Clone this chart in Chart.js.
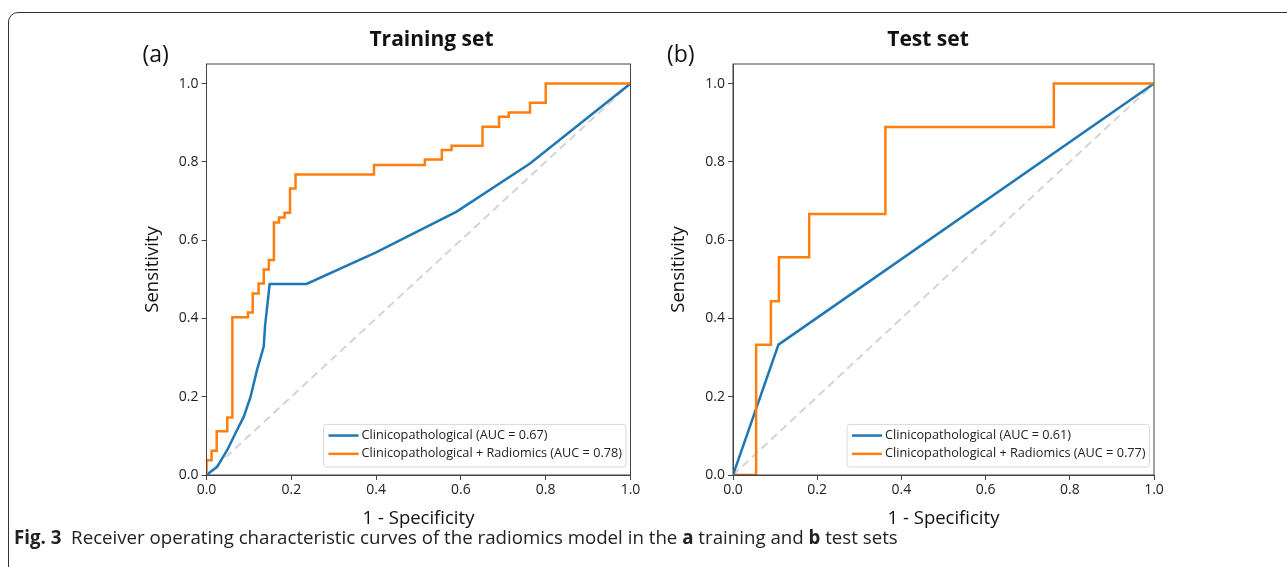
<!DOCTYPE html>
<html>
<head>
<meta charset="utf-8">
<script src="https://cdn.jsdelivr.net/npm/chart.js@4.4.1/dist/chart.umd.min.js"></script>
<style>
    body { margin: 0; background: #fff; width: 1287px; height: 567px; overflow: hidden; position: relative; font-family: "Open Sans", sans-serif; }
    .frame { position: absolute; left: 8px; top: 12px; width: 1300px; height: 600px; border: 1px solid #333; border-radius: 10px; }
    canvas { position: absolute; }
    #trainChart { left: 130px; top: 10px; }
    #testChart { left: 655px; top: 10px; }
    .caption { position: absolute; left: 14px; top: 526px; font-size: 18.7px; color: #222; white-space: nowrap; line-height: 22px; }
</style>
</head>
<body>
<div class="frame"></div>
<canvas id="trainChart" width="520" height="530"></canvas>
<canvas id="testChart" width="520" height="530"></canvas>
<div class="caption"><b>Fig. 3</b>&nbsp; Receiver operating characteristic curves of the radiomics model in the <b>a</b> training and <b>b</b> test sets</div>
<script>
// tick values shared by both panels
const tickValues = [0, 0.2, 0.4, 0.6, 0.8, 1.0];

// training set, clinicopathological model
const trainClinFpr = [0, 0.025, 0.049, 0.068, 0.088, 0.104, 0.119, 0.135, 0.138, 0.149, 0.236, 0.4, 0.59, 0.763, 1.0];
const trainClinTpr = [0, 0.021, 0.064, 0.106, 0.149, 0.2, 0.268, 0.328, 0.38, 0.488, 0.488, 0.569, 0.673, 0.796, 1.0];

// training set, clinicopathological + radiomics
const trainCombFpr = [0, 0, 0.012, 0.012, 0.024, 0.024, 0.049, 0.049, 0.061, 0.061, 0.098, 0.098, 0.109, 0.109,
    0.123, 0.123, 0.135, 0.135, 0.147, 0.147, 0.159, 0.159, 0.171, 0.171, 0.184, 0.184, 0.197, 0.197, 0.210, 0.210,
    0.395, 0.395, 0.515, 0.515, 0.555, 0.555, 0.578, 0.578, 0.651, 0.651, 0.690, 0.690, 0.713, 0.713, 0.763, 0.763,
    0.800, 0.800, 1.0];
const trainCombTpr = [0, 0.038, 0.038, 0.062, 0.062, 0.112, 0.112, 0.147, 0.147, 0.403, 0.403, 0.415, 0.415, 0.464,
    0.464, 0.489, 0.489, 0.525, 0.525, 0.549, 0.549, 0.645, 0.645, 0.658, 0.658, 0.670, 0.670, 0.732, 0.732, 0.768,
    0.768, 0.792, 0.792, 0.806, 0.806, 0.830, 0.830, 0.841, 0.841, 0.890, 0.890, 0.915, 0.915, 0.926, 0.926, 0.951,
    0.951, 1.0, 1.0];

// test set
const testClinFpr = [0, 0.108, 1.0];
const testClinTpr = [0, 0.333, 1.0];
const testCombFpr = [0, 0.055, 0.055, 0.090, 0.090, 0.109, 0.109, 0.181, 0.181, 0.362, 0.362, 0.762, 0.762, 1.0];
const testCombTpr = [0, 0, 0.333, 0.333, 0.444, 0.444, 0.556, 0.556, 0.667, 0.667, 0.889, 0.889, 1.0, 1.0];

const chanceFpr = [0, 1];
const chanceTpr = [0, 1];

const BLUE = '#1f77b4';
const ORANGE = '#ff7f0e';
const FONT = '"Open Sans", sans-serif';

function toPoints(xs, ys) {
    return xs.map((x, i) => ({ x, y: ys[i] }));
}

// panel tag, title, frame and the in-axes legend
const panelDecor = {
    id: 'panelDecor',
    afterDraw(chart, args, opts) {
        const { ctx, chartArea } = chart;
        ctx.save();
        ctx.strokeStyle = '#444';
        ctx.lineWidth = 1;
        ctx.strokeRect(chartArea.left, chartArea.top, chartArea.width, chartArea.height);

        ctx.fillStyle = '#111';
        ctx.textBaseline = 'middle';
        ctx.textAlign = 'left';
        ctx.font = `23px ${FONT}`;
        ctx.fillText(opts.tag, chartArea.left + opts.tagDx, 45);
        ctx.textAlign = 'center';
        ctx.font = `bold 21px ${FONT}`;
        ctx.fillText(opts.title, chartArea.left + opts.titleDx, 30);

        // legend box, lower right
        const items = chart.data.datasets.filter(d => d.label);
        ctx.font = `12.7px ${FONT}`;
        const textW = Math.max(...items.map(d => ctx.measureText(d.label).width));
        const rowH = 18.3;
        const boxW = 5 + 30 + 3 + textW + 4;
        const boxH = items.length * rowH + 6;
        const bx = chartArea.right - 4.5 - boxW;
        const by = chartArea.bottom - 8 - boxH;
        ctx.fillStyle = 'rgba(255,255,255,0.85)';
        ctx.strokeStyle = '#d8d8d8';
        ctx.beginPath();
        ctx.roundRect(bx, by, boxW, boxH, 3);
        ctx.fill();
        ctx.stroke();
        items.forEach((d, i) => {
            const cy = by + 2 + rowH * (i + 0.5);
            ctx.strokeStyle = d.borderColor;
            ctx.lineWidth = 2.5;
            ctx.beginPath();
            ctx.moveTo(bx + 5, cy);
            ctx.lineTo(bx + 35, cy);
            ctx.stroke();
            ctx.fillStyle = '#222';
            ctx.textAlign = 'left';
            ctx.fillText(d.label, bx + 38, cy);
        });
        ctx.restore();
    }
};

function makeOptions(pad, decor) {
    return {
        responsive: false,
        animation: false,
        layout: { padding: pad },
        plugins: {
            legend: { display: false },
            tooltip: { enabled: false },
            panelDecor: decor
        },
        scales: {
            x: {
                type: 'linear',
                min: 0,
                max: 1,
                afterBuildTicks: s => { s.ticks = tickValues.map(v => ({ value: v })); },
                afterFit: s => { s.height = 55; },
                grid: { drawOnChartArea: false, drawTicks: true, tickLength: 5, color: '#444' },
                border: { display: true, color: '#444' },
                ticks: { padding: 2, color: '#222', font: { family: FONT, size: 14 }, callback: v => v.toFixed(1) },
                title: { display: true, text: '1 - Specificity', color: '#111', padding: 0, font: { family: FONT, size: 18.5 } }
            },
            y: {
                type: 'linear',
                min: 0,
                max: 1.05,
                afterBuildTicks: s => { s.ticks = tickValues.map(v => ({ value: v })); },
                afterFit: s => { s.width = 65; },
                grid: { drawOnChartArea: false, drawTicks: true, tickLength: 5, color: '#444' },
                border: { display: true, color: '#444' },
                ticks: { padding: 3, color: '#222', font: { family: FONT, size: 14 }, callback: v => v.toFixed(1) },
                title: { display: true, text: 'Sensitivity', color: '#111', padding: 0, font: { family: FONT, size: 18.5 } }
            }
        }
    };
}

function makeDatasets(clinLabel, clinX, clinY, combLabel, combX, combY) {
    return [
        { label: clinLabel, data: toPoints(clinX, clinY), borderColor: BLUE, borderWidth: 2.5, showLine: true, pointRadius: 0, order: 1 },
        { label: combLabel, data: toPoints(combX, combY), borderColor: ORANGE, borderWidth: 2.5, showLine: true, pointRadius: 0, order: 0 },
        { label: '', data: toPoints(chanceFpr, chanceTpr), borderColor: '#d4d4d4', borderWidth: 2, borderDash: [8, 5], showLine: true, pointRadius: 0, order: 2 }
    ];
}

new Chart(document.getElementById('trainChart'), {
    type: 'scatter',
    data: {
        datasets: makeDatasets(
            'Clinicopathological (AUC = 0.67)', trainClinFpr, trainClinTpr,
            'Clinicopathological + Radiomics (AUC = 0.78)', trainCombFpr, trainCombTpr)
    },
    options: makeOptions({ left: 11.5, right: 19.5, top: 54, bottom: 10 }, { tag: '(a)', tagDx: -64, title: 'Training set', titleDx: 225 }),
    plugins: [panelDecor]
});

new Chart(document.getElementById('testChart'), {
    type: 'scatter',
    data: {
        datasets: makeDatasets(
            'Clinicopathological (AUC = 0.61)', testClinFpr, testClinTpr,
            'Clinicopathological + Radiomics (AUC = 0.77)', testCombFpr, testCombTpr)
    },
    options: makeOptions({ left: 13, right: 21, top: 54, bottom: 10 }, { tag: '(b)', tagDx: -66, title: 'Test set', titleDx: 195 }),
    plugins: [panelDecor]
});
</script>
</body>
</html>
